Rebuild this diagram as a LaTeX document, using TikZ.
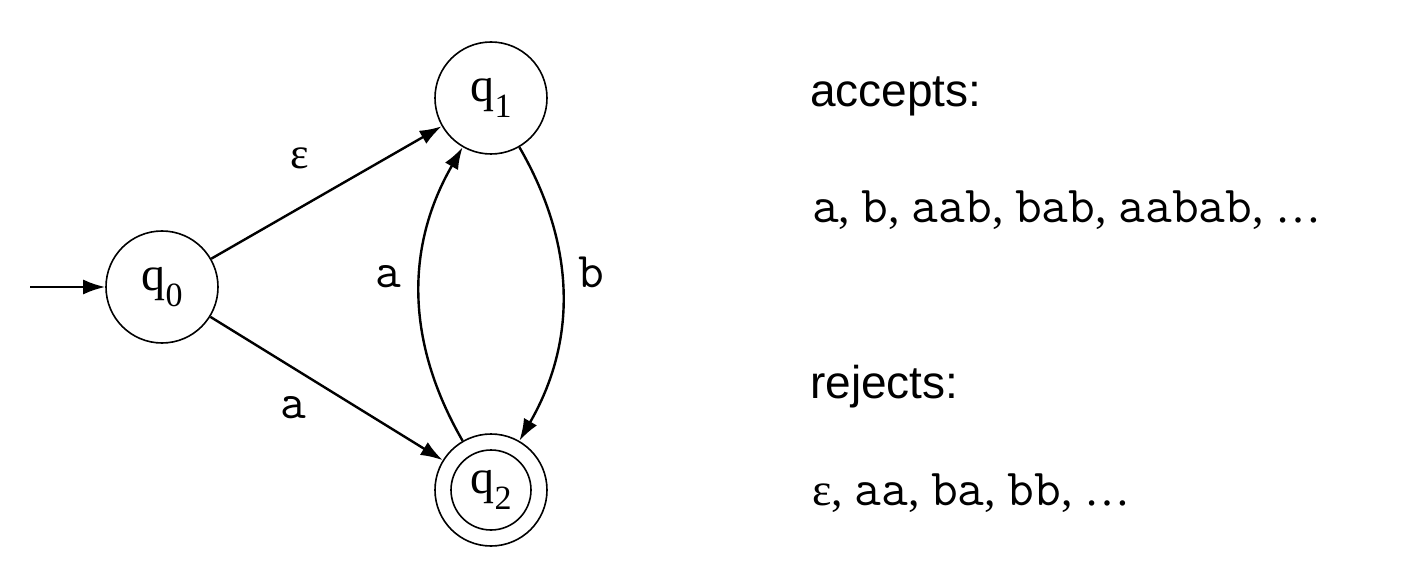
\documentclass[tikz,border=0pt]{standalone}
\usepackage{fontspec}
\setmainfont{Liberation Serif}
\newfontfamily\sansf{Liberation Sans}
\usetikzlibrary{arrows.meta}
\newcommand{\qlab}[1]{{\fontsize{48}{50}\selectfont q\raisebox{-0.32em}{\fontsize{34}{35}\selectfont #1}}}
\newcommand{\ml}[1]{{\fontsize{52}{54}\selectfont\ttfamily #1}}
\begin{document}
\begin{tikzpicture}[x=1pt,y=1pt,
  state/.style={circle,draw,line width=1.6pt,minimum size=112pt,inner sep=0pt},
  edge/.style={line width=2.4pt,-{Latex[length=22pt,width=15pt]}},
  elab/.style={inner sep=0pt,font=\fontsize{50}{52}\selectfont\ttfamily},
  bigtext/.style={inner sep=0pt,anchor=base west,font=\fontsize{46}{50}\selectfont}]
\useasboundingbox (0,0) rectangle (1426,568);
\node[state] (q0) at (162,281) {\qlab{0}};
\node[state] (q1) at (491,470) {\qlab{1}};
\node[state] (q2) at (491,78) {};
\node[circle,draw,line width=1.6pt,minimum size=80pt,inner sep=0pt] (q2in) at (491,78) {\qlab{2}};
\coordinate (init) at (30,281);
\draw[edge] (init) -- (q0);
\draw[edge] (q0) -- (q1);
\draw[edge] (q0) -- (q2);
\draw[edge] (q2) to[bend left=30] (q1);
\draw[edge] (q1) to[bend left=30] (q2);
\node[elab,font=\fontsize{44}{46}\selectfont] (leps) at (300,410) {ε};
\node[elab] (la1) at (388,291) {a};
\node[elab] (lb) at (591,296) {b};
\node[elab] (la2) at (293,160) {a};
\node[bigtext,font=\fontsize{46}{50}\selectfont\sansf] (acc) at (810,461) {accepts:};
\node[bigtext] (accl) at (812,345) {\ml{a}, \ml{b}, \ml{aab}, \ml{bab}, \ml{aabab}, …};
\node[bigtext,font=\fontsize{46}{50}\selectfont\sansf] (rej) at (810,170) {rejects:};
\node[bigtext] (rejl) at (812,63) {ε, \ml{aa}, \ml{ba}, \ml{bb}, …};
\end{tikzpicture}
\end{document}
